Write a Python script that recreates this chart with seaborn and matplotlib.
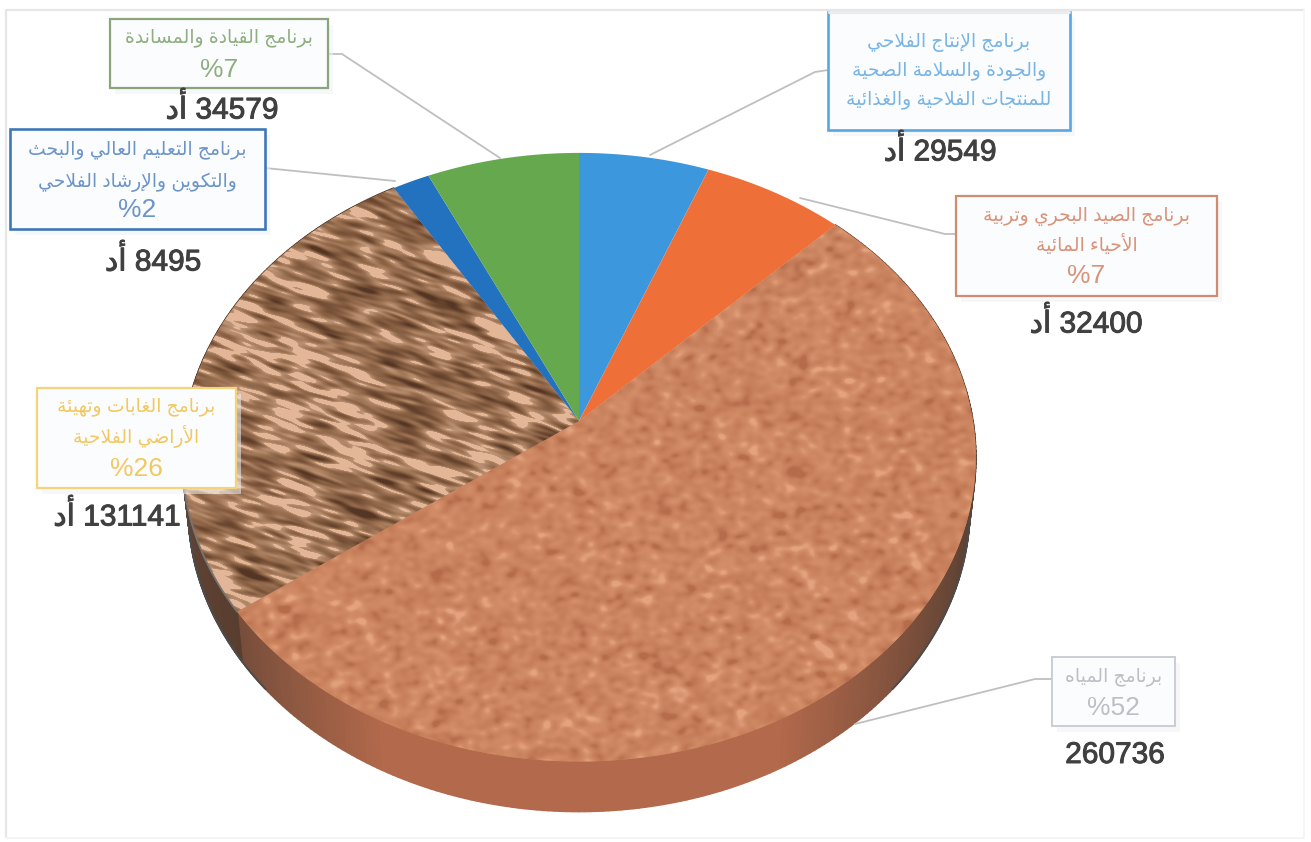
import numpy as np
import matplotlib
matplotlib.use("Agg")
import matplotlib.pyplot as plt
import matplotlib.patheffects as pe
import seaborn as sns
from matplotlib.collections import PolyCollection
from matplotlib.colors import LinearSegmentedColormap, to_rgb
from matplotlib.patches import Rectangle
from matplotlib.path import Path
from matplotlib.transforms import Transform

# Budget programmes, clockwise from twelve o'clock
programmes = [
    "برنامج الإنتاج الفلاحي\nوالجودة والسلامة الصحية\nللمنتجات الفلاحية والغذائية",
    "برنامج الصيد البحري وتربية\nالأحياء المائية",
    "برنامج المياه",
    "برنامج الغابات وتهيئة\nالأراضي الفلاحية",
    "برنامج التعليم العالي والبحث\nوالتكوين والإرشاد الفلاحي",
    "برنامج القيادة والمساندة",
]
amounts = [29549, 32400, 260736, 131141, 8495, 34579]
percent_labels = ["", "%7", "%52", "%26", "%2", "%7"]
amount_unit = ["أد", "أد", "", "أد", "أد", "أد"]
slice_colors = ["#3C97DC", "#EE7038", "#C87E5C", "#8F6240", "#2272BF", "#66A84D"]
label_colors = ["#78B4E4", "#D8937A", "#BDBFC7", "#F2C860", "#6C94C9", "#8FAE7F"]
edge_colors = ["#58A6E4", "#D08C70", "#CBCDD4", "#F5D27C", "#3F78B8", "#8AA57B"]


# Contextual shaping for the Arabic labels, since the text engine has none
_LETTERS = "ءآأؤإئابةتثجحخدذرزسشصضطظعغفقكلمنهوىي"
_COUNTS = [1, 2, 2, 2, 2, 4, 2, 4, 2, 4, 4, 4, 4, 4, 2, 2, 2, 2, 4, 4, 4, 4, 4, 4, 4, 4, 4, 4, 4, 4, 4, 4, 4, 2, 2, 4]
_FORMS = {}
_code = 0xFE80
for _ch, _n in zip(_LETTERS, _COUNTS):
    _FORMS[_ch] = [_code + k for k in range(_n)]
    _code += _n
_LAM_ALEF = {"آ": 0xFEF5, "أ": 0xFEF7, "إ": 0xFEF9, "ا": 0xFEFB}


def shape_word(word):
    out = []
    i = 0
    prev_joins = False
    while i < len(word):
        ch = word[i]
        if ch == "ل" and i + 1 < len(word) and word[i + 1] in _LAM_ALEF:
            out.append(chr(_LAM_ALEF[word[i + 1]] + (1 if prev_joins else 0)))
            prev_joins = False
            i += 2
            continue
        forms = _FORMS[ch]
        next_is_letter = i + 1 < len(word) and word[i + 1] in _FORMS
        joins_next = len(forms) == 4 and next_is_letter
        if len(forms) == 1:
            out.append(chr(forms[0]))
        elif prev_joins and joins_next:
            out.append(chr(forms[3]))
        elif prev_joins:
            out.append(chr(forms[1]))
        elif joins_next:
            out.append(chr(forms[2]))
        else:
            out.append(chr(forms[0]))
        prev_joins = joins_next
        i += 1
    return "".join(reversed(out))


def shape_line(line):
    return " ".join(shape_word(w) for w in reversed(line.split(" ")))


def shape_block(text):
    return "\n".join(shape_line(line) for line in text.split("\n"))


class TiltedDisc(Transform):
    """Projects a flat pie of radius 1000 onto the tilted disc, in canvas pixels."""
    input_dims = output_dims = 2
    has_inverse = False
    is_separable = False

    def transform_non_affine(self, values):
        v = np.asarray(values, dtype=float)
        x, y = v[:, 0] / 1000.0, v[:, 1] / 1000.0
        w = 1 + 0.119 * y
        return np.column_stack([579 + 394 * x / w, 421 - 300 * y / w])

    def transform_path_non_affine(self, path):
        flat = path.cleaned(curves=False)
        return Path(self.transform_non_affine(flat.vertices), flat.codes)


def smooth_noise(shape, seed, long_axis, short_axis, angle_deg):
    rng = np.random.default_rng(seed)
    field = rng.standard_normal(shape)
    fy = np.fft.fftfreq(shape[0])[:, None]
    fx = np.fft.rfftfreq(shape[1])[None, :]
    a = np.deg2rad(angle_deg)
    u = fx * np.cos(a) + fy * np.sin(a)
    v = -fx * np.sin(a) + fy * np.cos(a)
    gain = np.exp(-2 * np.pi ** 2 * ((u * long_axis) ** 2 + (v * short_axis) ** 2))
    out = np.fft.irfft2(np.fft.rfft2(field) * gain, s=shape)
    return (out - out.mean()) / out.std()


sns.set_theme(style="white")
plt.rcParams["font.family"] = ["Liberation Sans", "DejaVu Sans"]
palette = sns.color_palette(slice_colors)

fig = plt.figure(figsize=(13.11, 8.42), dpi=100, facecolor="white")
ax = fig.add_axes([0, 0, 1, 1])

tilt = TiltedDisc()
wedges, _ = ax.pie(amounts, startangle=90, counterclock=False, radius=1000,
                   colors=palette, wedgeprops={"linewidth": 0})
ax.set_aspect("auto")
ax.set_xlim(0, 1311)
ax.set_ylim(842, 0)
ax.axis("off")
for w in wedges:
    w.set_transform(tilt + ax.transData)
    w.set_zorder(3)

# Outer frame of the chart area: crisp on the top and left, faint elsewhere
ax.plot([6, 6, 1304], [838, 10, 10], color="#E6E6E6", lw=1.6, zorder=0)
ax.plot([6, 1304, 1304], [838, 838, 10], color="#F5F5F5", lw=1.4, zorder=0)


def rim_points(theta_deg):
    t = np.deg2rad(theta_deg)
    return tilt.transform_non_affine(np.column_stack([1000 * np.cos(t), 1000 * np.sin(t)]))


def lower_points(pts):
    return np.column_stack([579 + 0.985 * (pts[:, 0] - 579), pts[:, 1] + 50])


# Side wall of the disc, below the water and forest slices
water, forest = wedges[2], wedges[3]
quads, quad_colors = [], []
for wedge, base in ((water, "#B3694B"), (forest, "#4B3526")):
    thetas = np.linspace(wedge.theta1, wedge.theta2, 240)
    top = rim_points(thetas)
    low = lower_points(top)
    for k in range(len(thetas) - 1):
        quads.append([top[k], top[k + 1], low[k + 1], low[k]])
        shade = np.clip((abs(np.cos(np.deg2rad(thetas[k]))) - 0.45) / 0.5, 0, 1)
        dark = np.array(to_rgb("#5E4234"))
        quad_colors.append((1 - shade) * np.array(to_rgb(base)) + shade * dark)
ax.add_collection(PolyCollection(quads, facecolors=quad_colors, edgecolors=quad_colors,
                                 linewidths=1.2, zorder=2))

# Dark rim on the shoulders of the disc
for lo, hi in ((-42, -8), (190, 222)):
    ln = lower_points(rim_points(np.linspace(lo, hi, 80)))
    ax.plot(ln[:, 0], ln[:, 1], color="#4C4C4C", lw=1.4, zorder=2.5)
arc = rim_points(np.linspace(water.theta1, water.theta1 - 42, 60))
ax.plot(arc[:, 0], arc[:, 1], color="#7A7470", lw=1.3, zorder=3.5)

# Surface textures for the two large slices
canvas = (842, 1311)
cork_cmap = LinearSegmentedColormap.from_list(
    "cork", ["#B56C4B", "#C47C59", "#CC8561", "#D38E69", "#E4A27E"])
cork = smooth_noise(canvas, 11, 3.4, 2.6, 0)
cork_img = ax.imshow(cork, cmap=cork_cmap, vmin=-2.6, vmax=2.6, extent=(0, 1311, 842, 0),
                     aspect="auto", interpolation="bilinear", zorder=3.2)
cork_img.set_clip_path(water)

bark_cmap = LinearSegmentedColormap.from_list(
    "bark", [(0.0, "#553624"), (0.28, "#7E573C"), (0.50, "#9C7253"), (0.68, "#BC9374"),
             (0.70, "#E2B696"), (1.0, "#E2B696")])
bark = smooth_noise(canvas, 5, 8, 1.5, 18) + 0.55 * smooth_noise(canvas, 6, 18, 4, 26)
bark = bark / bark.std()
bark_img = ax.imshow(bark, cmap=bark_cmap, vmin=-2.6, vmax=2.6, extent=(0, 1311, 842, 0),
                     aspect="auto", interpolation="nearest", zorder=3.2)
bark_img.set_clip_path(forest)
ax.set_xlim(0, 1311)
ax.set_ylim(842, 0)

# Callouts: box, leader, label lines and amount underneath
boxes = [(828, 12, 242, 118), (956, 196, 261, 100), (1052, 657, 123, 69),
         (37, 388, 199, 100), (10, 129, 255, 100), (110, 19, 218, 69)]
leaders = [[(828, 70), (815, 72), (650, 155)],
           [(956, 234), (945, 234), (800, 198)],
           [(1052, 679), (1035, 679), (855, 724)],
           [],
           [(265, 168), (395, 181)],
           [(328, 54), (342, 54), (500, 158)]]
line_rows = [[42, 71, 100], [216, 245, 276], [677, 708], [407, 437, 469],
             [150, 182, 210], [38, 70]]
amount_pos = [(940, 151), (1086, 323), (1115, 755), (117, 516), (153, 261), (222, 109)]
box_widths = [1.9, 1.6, 1.4, 1.6, 1.9, 1.6]
bold_touch = [pe.withStroke(linewidth=0.7, foreground="#404040")]

for i, amount in enumerate(amounts):
    x0, y0, w, h = boxes[i]
    if leaders[i]:
        px, py = zip(*leaders[i])
        ax.plot(px, py, color="#BFBFBF", lw=1.3, zorder=4)
    ax.add_patch(Rectangle((x0 + 5, y0 + 6), w, h, fc="#EEF1F5", ec="none", alpha=0.55, zorder=4.5))
    ax.add_patch(Rectangle((x0, y0), w, h, fc="#FBFCFD", ec=edge_colors[i], lw=box_widths[i], zorder=5))

    lines = shape_block(programmes[i]).split("\n")
    if percent_labels[i]:
        lines = lines + [percent_labels[i]]
    cx = x0 + w / 2
    for row, line in zip(line_rows[i], lines):
        is_pct = line.startswith("%")
        ax.text(cx, row, line, ha="center", va="center", color=label_colors[i],
                fontsize=19 if is_pct else 13.5, zorder=6)

    unit = amount_unit[i]
    text = f"{shape_word(unit)} {amount}" if unit else str(amount)
    ax.text(amount_pos[i][0], amount_pos[i][1], text, ha="center", va="center",
            color="#404040", fontsize=21.5, zorder=6, path_effects=bold_touch)

# The top edge of the first callout runs into the frame and barely shows
x0, y0, w, _h = boxes[0]
ax.plot([x0 + 1, x0 + w - 1], [y0, y0], color="#E8EBEF", lw=2.2, zorder=5.5)

fig.savefig("out.png", dpi=100, facecolor="white")
